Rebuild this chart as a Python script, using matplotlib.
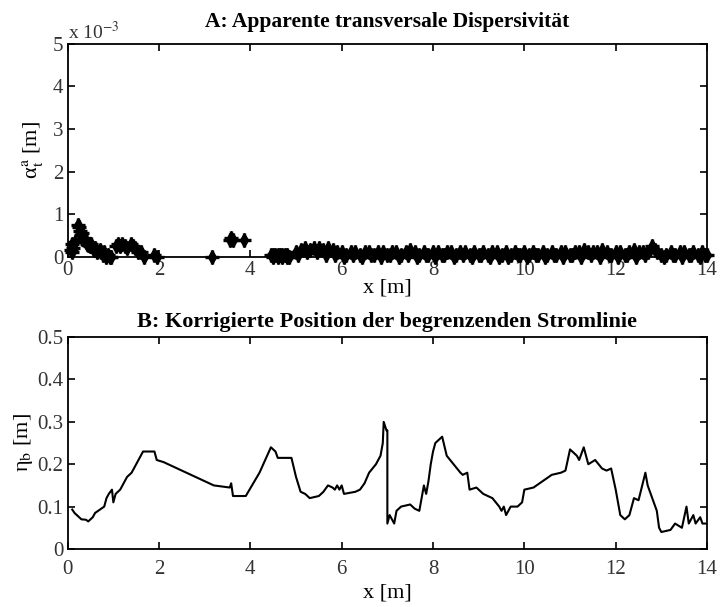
import matplotlib
matplotlib.use("Agg")
import matplotlib.pyplot as plt

plt.rcParams["font.family"] = ["Liberation Serif", "DejaVu Serif"]
plt.rcParams["mathtext.fontset"] = "stix"

# A: apparent transverse dispersivity (units of 1e-3 m), near field
near_x = [0.08, 0.1, 0.1, 0.12, 0.15, 0.22, 0.25, 0.28, 0.3, 0.32,
          0.35, 0.38, 0.4, 0.42, 0.45, 0.48, 0.5, 0.55, 0.58, 0.6,
          0.65, 0.7, 0.72, 0.78, 0.8, 0.85, 0.88, 0.92, 0.95, 1.05,
          1.1, 1.15, 1.2, 1.25, 1.3, 1.38, 1.42, 1.48, 1.55, 1.6,
          1.68, 1.9, 1.95, 3.15, 3.55, 3.58, 3.62, 3.85]
near_y = [0.15, 0.3, 0.1, 0.2, 0.35, 0.75, 0.7, 0.6, 0.5, 0.55,
          0.45, 0.4, 0.35, 0.3, 0.28, 0.25, 0.3, 0.2, 0.15, 0.2,
          0.1, 0.15, 0.1, 0.05, 0.1, 0.0, 0.05, 0.0, 0.0, 0.25,
          0.3, 0.25, 0.3, 0.25, 0.2, 0.3, 0.25, 0.2, 0.1, 0.1,
          0.0, 0.05, 0.0, 0.0, 0.4, 0.45, 0.4, 0.4]

# far field, upper envelope of the band
far_x = [4.45, 4.5, 4.55, 4.6, 4.65, 4.7, 4.75, 4.8, 4.85, 5.0,
         5.1, 5.2, 5.3, 5.4, 5.5, 5.6, 5.7, 5.8, 5.9, 6.0,
         6.1, 6.2, 6.3, 6.4, 6.5, 6.6, 6.7, 6.8, 6.9, 7.0,
         7.1, 7.2, 7.3, 7.4, 7.5, 7.6, 7.7, 7.8, 7.9, 8.0,
         8.1, 8.2, 8.3, 8.4, 8.5, 8.6, 8.7, 8.8, 8.9, 9.0,
         9.1, 9.2, 9.3, 9.4, 9.5, 9.6, 9.7, 9.8, 9.9, 10.0,
         10.1, 10.2, 10.3, 10.4, 10.5, 10.6, 10.7, 10.8, 10.9, 11.0,
         11.1, 11.2, 11.3, 11.4, 11.5, 11.6, 11.7, 11.8, 11.9, 12.0,
         12.1, 12.2, 12.3, 12.4, 12.5, 12.6, 12.7, 12.8, 12.9, 13.0,
         13.1, 13.2, 13.3, 13.4, 13.5, 13.6, 13.7, 13.8, 13.9, 14.0]
far_y = [0.05, 0.05, 0.05, 0.05, 0.05, 0.05, 0.05, 0.05, 0.0, 0.1,
         0.15, 0.2, 0.15, 0.2, 0.2, 0.15, 0.2, 0.15, 0.1, 0.1,
         0.05, 0.1, 0.1, 0.05, 0.1, 0.1, 0.05, 0.1, 0.1, 0.05,
         0.1, 0.1, 0.05, 0.1, 0.15, 0.1, 0.05, 0.1, 0.05, 0.1,
         0.1, 0.05, 0.1, 0.1, 0.05, 0.1, 0.1, 0.05, 0.1, 0.05,
         0.1, 0.05, 0.1, 0.1, 0.05, 0.1, 0.05, 0.1, 0.05, 0.1,
         0.05, 0.1, 0.05, 0.1, 0.05, 0.1, 0.05, 0.1, 0.1, 0.05,
         0.1, 0.1, 0.15, 0.1, 0.1, 0.1, 0.15, 0.1, 0.05, 0.1,
         0.1, 0.05, 0.1, 0.15, 0.1, 0.1, 0.1, 0.25, 0.1, 0.05,
         0.05, 0.1, 0.05, 0.1, 0.1, 0.05, 0.1, 0.05, 0.1, 0.05]

# far field, lower edge of the band
low_x = [4.5, 4.6, 4.7, 4.8, 5.05, 5.25, 5.45, 5.65, 5.85, 6.05,
         6.25, 6.45, 6.65, 6.85, 7.05, 7.25, 7.45, 7.65, 7.85, 8.05,
         8.25, 8.45, 8.65, 8.85, 9.05, 9.25, 9.45, 9.65, 9.85, 10.05,
         10.25, 10.45, 10.65, 10.85, 11.05, 11.25, 11.45, 11.65, 11.85, 12.05,
         12.25, 12.45, 12.65, 12.85, 13.05, 13.25, 13.45, 13.65, 13.85, 13.95]
low_y = [0.0, 0.0, 0.0, 0.0, 0.05, 0.1, 0.1, 0.05, 0.05, 0.0,
         0.05, 0.0, 0.05, 0.0, 0.05, 0.0, 0.05, 0.0, 0.05, 0.0,
         0.05, 0.0, 0.05, 0.0, 0.05, 0.0, 0.0, 0.0, 0.05, 0.0,
         0.05, 0.0, 0.05, 0.0, 0.05, 0.0, 0.05, 0.0, 0.05, 0.0,
         0.05, 0.0, 0.05, 0.15, 0.0, 0.05, 0.0, 0.05, 0.0, 0.05]

# B: corrected position of the bounding streamline
eta_x = [0.1, 0.15, 0.25, 0.3, 0.4, 0.45, 0.55, 0.6, 0.8, 0.85,
         0.9, 0.97, 1.0, 1.05, 1.15, 1.3, 1.4, 1.5, 1.6, 1.65,
         1.9, 1.95, 2.1, 2.6, 3.2, 3.55, 3.58, 3.6, 3.62, 3.9,
         4.2, 4.45, 4.55, 4.6, 4.9, 5.0, 5.1, 5.2, 5.3, 5.5,
         5.6, 5.7, 5.8, 5.85, 5.9, 5.95, 6.0, 6.05, 6.3, 6.4,
         6.5, 6.6, 6.75, 6.85, 6.9, 6.92, 6.98, 7.0, 7.0, 7.05,
         7.1, 7.15, 7.2, 7.3, 7.5, 7.6, 7.7, 7.75, 7.8, 7.85,
         7.9, 7.95, 8.0, 8.05, 8.15, 8.2, 8.3, 8.45, 8.6, 8.65,
         8.75, 8.8, 8.95, 9.1, 9.3, 9.45, 9.5, 9.55, 9.6, 9.7,
         9.85, 9.95, 10.0, 10.2, 10.4, 10.6, 10.8, 10.9, 11.0, 11.15,
         11.2, 11.3, 11.4, 11.55, 11.7, 11.8, 11.9, 12.0, 12.1, 12.2,
         12.3, 12.4, 12.5, 12.65, 12.7, 12.8, 12.9, 12.95, 13.0, 13.2,
         13.3, 13.45, 13.55, 13.6, 13.7, 13.75, 13.85, 13.9, 14.0]
eta_y = [0.093, 0.085, 0.075, 0.07, 0.069, 0.065, 0.075, 0.085, 0.1, 0.12,
         0.13, 0.14, 0.11, 0.13, 0.14, 0.17, 0.18, 0.2, 0.22, 0.23,
         0.23, 0.21, 0.205, 0.18, 0.15, 0.145, 0.155, 0.14, 0.125, 0.125,
         0.18, 0.24, 0.23, 0.215, 0.215, 0.17, 0.135, 0.13, 0.12, 0.125,
         0.135, 0.15, 0.145, 0.14, 0.15, 0.14, 0.15, 0.13, 0.135, 0.14,
         0.155, 0.18, 0.2, 0.22, 0.25, 0.3, 0.28, 0.28, 0.06, 0.08,
         0.07, 0.06, 0.09, 0.1, 0.105, 0.095, 0.09, 0.12, 0.15, 0.13,
         0.16, 0.2, 0.23, 0.25, 0.26, 0.265, 0.22, 0.2, 0.18, 0.175,
         0.18, 0.14, 0.145, 0.13, 0.12, 0.1, 0.09, 0.1, 0.08, 0.1,
         0.1, 0.11, 0.14, 0.145, 0.16, 0.175, 0.18, 0.185, 0.235, 0.22,
         0.21, 0.24, 0.2, 0.21, 0.19, 0.185, 0.19, 0.14, 0.08, 0.07,
         0.08, 0.12, 0.115, 0.18, 0.15, 0.12, 0.09, 0.05, 0.04, 0.045,
         0.06, 0.05, 0.1, 0.06, 0.08, 0.06, 0.075, 0.06, 0.06]

x_ticks = [0, 2, 4, 6, 8, 10, 12, 14]


def style_axes(ax, xpad=3, lpad=-1):
    ax.set_xlim(0, 14)
    ax.set_xticks(x_ticks)
    ax.tick_params(direction="in", top=True, right=True, length=5, width=1.2,
                   labelsize=15, labelcolor="#333333", pad=3)
    ax.tick_params(axis="x", pad=xpad)
    for s in ax.spines.values():
        s.set_linewidth(1.3)
    ax.set_xlabel("x [m]", fontsize=16, labelpad=lpad)


def scatter_marks(ax, xs, ys):
    # matlab-ish marker: diamond with a plus on top
    ax.plot(xs, ys, linestyle="none", marker="d", markersize=7.5, color="black", clip_on=False)
    ax.plot(xs, ys, linestyle="none", marker="+", markersize=10, mew=2.4, color="black", clip_on=False)


fig = plt.figure(figsize=(7.2, 6.07), dpi=100)

ax1 = fig.add_axes([0.094, 0.577, 0.888, 0.351])
scatter_marks(ax1, near_x, near_y)
scatter_marks(ax1, far_x, far_y)
scatter_marks(ax1, low_x, low_y)
ax1.set_ylim(0, 5)
ax1.set_yticks([0, 1, 2, 3, 4, 5])
style_axes(ax1)
ax1.set_ylabel("α$_\\mathrm{t}^\\mathrm{a}$ [m]", fontsize=16, labelpad=6)
ax1.set_title("A: Apparente transversale Dispersivität", fontsize=15.5, fontweight="bold", pad=12)
ax1.text(0.0, 1.005, r"x 10$^{-3}$", transform=ax1.transAxes, fontsize=14,
         color="#333333", va="bottom", ha="left")

ax2 = fig.add_axes([0.094, 0.0956, 0.888, 0.349])
ax2.plot(eta_x, eta_y, color="black", linewidth=1.5)
ax2.set_ylim(0, 0.5)
ax2.set_yticks([0, 0.1, 0.2, 0.3, 0.4, 0.5])
ax2.set_yticklabels(["0", "0.1", "0.2", "0.3", "0.4", "0.5"])
style_axes(ax2, xpad=8, lpad=3)
ax2.set_ylabel("η$_\\mathrm{b}$ [m]", fontsize=16, labelpad=2)
ax2.set_title("B: Korrigierte Position der begrenzenden Stromlinie", fontsize=16,
              fontweight="bold", pad=7)

fig.savefig("out.png", dpi=100)
